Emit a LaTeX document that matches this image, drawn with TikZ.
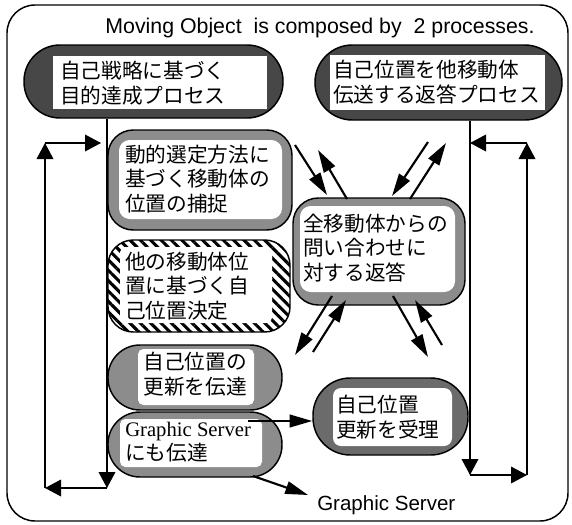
\documentclass[tikz,border=0pt]{standalone}
\usepackage{fontspec}
\setmainfont{Liberation Serif}
\newfontfamily\jpfont{Noto Sans CJK JP}
\newfontfamily\hvfont{Liberation Sans}
\usetikzlibrary{fit,patterns.meta,arrows.meta}
\begin{document}
\begin{tikzpicture}[x=0.75pt,y=-0.75pt,
  frame/.style={draw, line width=1.1pt, rounded corners=21pt, inner sep=0pt},
  box/.style={draw, line width=1.1pt, inner sep=0pt},
  dark/.style={box, fill=black!72},
  light/.style={box, fill=black!45},
  midbox/.style={box, fill=black!58},
  stripes/.style={box, pattern={Lines[angle=-45,distance=5.5pt,line width=2.3pt]}},
  inner/.style={fill=white, inner sep=0pt, draw=none},
  jp/.style={font=\jpfont\fontsize{15.5pt}{18.5pt}\selectfont, align=left, inner sep=0pt},
  loopar/.style={line width=1pt, -{Triangle[length=12pt,width=12.5pt]}},
  msg/.style={line width=1.6pt, -{Triangle[length=17pt,width=9.5pt]}},
]
\useasboundingbox (0,0) rectangle (572,525);
\node[frame, fit={(7,5) (568,521)}] (frame) {};
\node[font=\hvfont\fontsize{16pt}{19pt}\selectfont, anchor=base, inner sep=0pt] (title) at (320,33)
  {Moving Object\ \ is composed by\ \ 2 processes.};

% node 1
\node[dark, rounded corners=27pt, fit={(24,45) (283,118)}] (p1) {};
\node[inner, fit={(53,56) (267,109)}] (p1w) {};
\node[jp, anchor=west] (p1t) at (60,83) {自己戦略に基づく\\目的達成プロセス};
% node 2
\node[dark, rounded corners=28pt, fit={(315,45) (562,120)}] (p2) {};
\node[inner, fit={(330,55) (545,110)}] (p2w) {};
\node[jp, anchor=west] (p2t) at (333,82) {自己位置を他移動体\\伝送する返答プロセス};
% node 3
\node[light, rounded corners=19pt, fit={(108,130) (292,230)}] (p3) {};
\node[inner, rounded corners=8pt, fit={(119,140) (282,219)}] (p3w) {};
\node[jp, anchor=west] (p3t) at (125,179) {動的選定方法に\\基づく移動体の\\位置の捕捉};
% node 4
\node[stripes, rounded corners=19pt, fit={(108,240) (290,332)}] (p4) {};
\node[inner, rounded corners=4pt, fit={(120,247) (272,323)}] (p4w) {};
\node[jp, anchor=west] (p4t) at (125,286) {他の移動体位\\置に基づく自\\己位置決定};
% node 5
\node[light, rounded corners=24pt, fit={(108,345) (282,410)}] (p5) {};
\node[inner, rounded corners=4pt, fit={(138,349) (254,405)}] (p5w) {};
\node[jp] (p5t) at (195,374) {自己位置の\\更新を伝達};
% node 6
\node[light, rounded corners=24pt, fit={(108,412) (282,477)}] (p6) {};
\node[inner, rounded corners=4pt, fit={(120,419) (262,467)}] (p6w) {};
\node[jp, anchor=west] (p6t) at (125,442) {{\rmfamily Graphic Server}\\にも伝達};
% node 7
\node[light, rounded corners=19pt, fit={(293,198) (465,305)}] (p7) {};
\node[inner, rounded corners=8pt, fit={(300,206) (455,292)}] (p7w) {};
\node[jp, anchor=west] (p7t) at (303,248) {全移動体からの\\問い合わせに\\対する返答};
% node 8
\node[midbox, rounded corners=28pt, fit={(313,378) (468,455)}] (p8) {};
\node[inner, rounded corners=6pt, fit={(333,388) (452,446)}] (p8w) {};
\node[jp, anchor=west] (p8t) at (336,417) {自己位置\\更新を受理};

% bottom label
\node[font=\hvfont\fontsize{15.4pt}{18pt}\selectfont, anchor=base west, inner sep=0pt] (gs) at (317,510) {Graphic Server};

% left loop
\coordinate (la) at (107,488);
\coordinate (lb) at (45,488);
\coordinate (lc) at (45,143);
\coordinate (ld) at (101,143);
\draw[loopar] (p1.south -| la) -- (la);
\draw[loopar] (la) -- (lb);
\draw[loopar] (lb) -- (lc);
\draw[loopar] (lc) -- (ld);
% right loop
\coordinate (ra) at (470,475);
\coordinate (rb) at (527,475);
\coordinate (rc) at (527,143);
\coordinate (rd) at (470,143);
\draw[loopar] (p2.south -| ra) -- (ra);
\draw[loopar] (ra) -- (rb);
\draw[loopar] (rb) -- (rc);
\draw[loopar] (rc) -- (rd);

% message arrows around node 7
\coordinate (a1s) at (295,145); \coordinate (a1e) at (327,195);
\coordinate (a2s) at (347,199); \coordinate (a2e) at (318,150);
\coordinate (a3s) at (428,142); \coordinate (a3e) at (392,196);
\coordinate (a4s) at (410,199); \coordinate (a4e) at (446,143);
\coordinate (a5s) at (332,296); \coordinate (a5e) at (295,355);
\coordinate (a6s) at (313,352); \coordinate (a6e) at (346,300);
\coordinate (a7s) at (393,296); \coordinate (a7e) at (428,357);
\coordinate (a8s) at (442,345); \coordinate (a8e) at (415,300);
\draw[msg] (a1s) -- (a1e);
\draw[msg] (a2s) -- (a2e);
\draw[msg] (a3s) -- (a3e);
\draw[msg] (a4s) -- (a4e);
\draw[msg] (a5s) -- (a5e);
\draw[msg] (a6s) -- (a6e);
\draw[msg] (a7s) -- (a7e);
\draw[msg] (a8s) -- (a8e);

% graphic server arrows
\coordinate (g1) at (248,421);
\draw[msg] (g1) -- (g1 -| p8.west);
\coordinate (g2) at (253,476);
\coordinate (g2e) at (308,495);
\draw[msg] (g2) -- (g2e);
\end{tikzpicture}
\end{document}
